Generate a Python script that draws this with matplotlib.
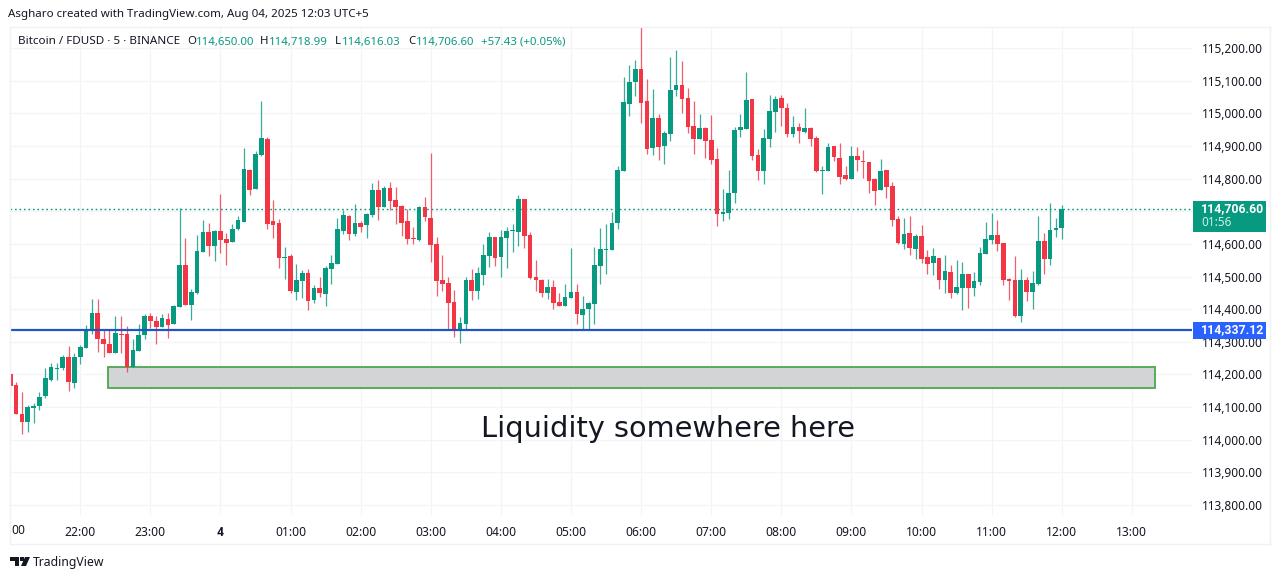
import matplotlib
matplotlib.use("Agg")
import matplotlib.pyplot as plt
from matplotlib.patches import Rectangle, Polygon

plt.rcParams['font.family'] = ['Noto Sans', 'DejaVu Sans']

opens = [114200,114166,114080,114053,114096,114104,114135,114184,114218,114220,
114252,114173,114253,114280,114337,114387,114309,114294,114265,114324,
114325,114222,114273,114320,114380,114364,114345,114370,114353,114406,
114534,114414,114451,114575,114638,114593,114641,114614,114605,114647,
114668,114827,114769,114874,114923,114671,114663,114557,114562,114452,
114485,114510,114427,114464,114445,114522,114538,114639,114685,114630,
114663,114657,114688,114765,114712,114771,114734,114715,114669,114617,
114611,114712,114679,114599,114488,114479,114421,114336,114353,114488,
114455,114504,114562,114620,114559,114617,114640,114636,114737,114626,
114498,114488,114449,114467,114421,114409,114433,114452,114381,114399,
114415,114531,114581,114580,114663,114823,115028,115096,115136,115037,
114893,114985,114899,114936,115071,115087,115047,114961,114921,114955,
114918,114859,114691,114694,114755,114948,114952,115044,114872,114823,
114921,115004,115047,115016,114936,114958,114942,114955,114924,114823,
114823,114899,114864,114812,114800,114870,114855,114852,114800,114766,
114828,114778,114677,114601,114634,114585,114625,114561,114542,114558,
114490,114515,114450,114466,114509,114466,114484,114570,114613,114628,
114604,114493,114490,114380,114490,114453,114478,114610,114555,114643,
114650]
highs = [114205,114177,114147,114107,114111,114147,114220,114235,114235,114261,
114288,114266,114291,114350,114430,114430,114337,114337,114380,114378,
114348,114310,114355,114384,114387,114380,114386,114387,114414,114711,
114619,114463,114626,114672,114663,114644,114752,114634,114661,114685,
114895,114830,114886,115039,114929,114736,114675,114592,114570,114538,
114519,114522,114473,114498,114532,114565,114679,114704,114688,114722,
114670,114696,114786,114795,114777,114789,114774,114719,114706,114651,
114715,114743,114878,114620,114565,114498,114458,114375,114498,114522,
114528,114599,114636,114620,114642,114651,114660,114749,114737,114636,
114550,114491,114491,114488,114449,114476,114587,114476,114439,114421,
114590,114648,114660,114697,114838,115111,115148,115163,115267,115105,
115074,114998,114945,115172,115194,115160,115077,115037,114998,114958,
114994,114893,114767,114826,114958,114998,115126,115044,114890,114952,
115056,115053,115056,115031,114991,114970,115016,114958,114930,114838,
114909,114899,114910,114840,114901,114898,114889,114852,114803,114861,
114828,114791,114686,114680,114686,114631,114659,114582,114588,114558,
114567,114536,114551,114545,114509,114515,114591,114668,114696,114674,
114604,114496,114564,114524,114499,114518,114686,114634,114726,114680,
114718.99]
lows = [114143,114078,114017,114023,114051,114090,114128,114181,114182,114214,
114148,114158,114232,114280,114324,114268,114253,114265,114265,114266,
114208,114222,114271,114308,114341,114293,114345,114311,114353,114406,
114412,114368,114446,114575,114562,114547,114571,114535,114605,114644,
114668,114751,114769,114871,114647,114619,114525,114494,114451,114428,
114434,114396,114420,114436,114410,114476,114538,114630,114611,114624,
114636,114617,114682,114673,114712,114703,114660,114623,114599,114599,
114608,114669,114544,114439,114455,114338,114314,114295,114338,114427,
114430,114473,114528,114531,114498,114525,114574,114593,114587,114491,
114455,114436,114430,114399,114409,114409,114433,114353,114335,114338,
114356,114476,114507,114580,114645,114823,114991,115053,114970,114875,
114872,114856,114844,114915,115053,115001,114939,114875,114921,114863,
114844,114654,114669,114675,114725,114927,114952,114856,114795,114783,
114896,114942,114961,114927,114927,114909,114939,114899,114820,114752,
114823,114853,114785,114797,114800,114824,114803,114757,114720,114766,
114742,114656,114601,114585,114567,114555,114542,114509,114505,114463,
114450,114435,114447,114398,114404,114441,114475,114570,114601,114579,
114475,114429,114377,114361,114426,114401,114475,114509,114536,114622,
114616.03]
closes = [114164,114078,114053,114100,114104,114131,114189,114224,114221,114254,
114176,114254,114284,114337,114387,114308,114293,114265,114328,114322,
114222,114276,114322,114380,114363,114345,114373,114351,114411,114534,
114412,114454,114577,114638,114593,114641,114612,114602,114647,114672,
114831,114766,114877,114926,114662,114659,114557,114560,114455,114488,
114510,114424,114464,114450,114525,114541,114645,114688,114630,114663,
114651,114691,114765,114712,114771,114731,114712,114663,114614,114614,
114712,114682,114596,114485,114476,114418,114338,114357,114488,114455,
114510,114565,114620,114556,114620,114639,114642,114737,114623,114495,
114488,114449,114467,114418,114409,114436,114452,114384,114402,114418,
114534,114583,114583,114663,114826,115034,115096,115136,115031,114890,
114985,114896,114939,115071,115087,115044,114958,114921,114955,114915,
114856,114691,114697,114755,114948,114958,115040,114869,114823,114924,
115007,115044,115016,114936,114958,114945,114955,114921,114823,114828,
114896,114866,114806,114800,114870,114858,114850,114794,114763,114824,
114775,114674,114604,114631,114588,114625,114555,114539,114564,114490,
114518,114450,114469,114509,114466,114487,114573,114616,114628,114601,
114490,114487,114380,114490,114453,114481,114610,114555,114643,114650,
114706.60]

y_ticks = [115200,115100,115000,114900,114800,114700,114600,114500,114400,
           114300,114200,114100,114000,113900,113800]
hidden_y_label = 114700
hour_ticks = [12,24,36,48,60,72,84,96,108,120,132,144,156,168,180,192]
hour_labels = ['22:00','23:00','4','01:00','02:00','03:00','04:00','05:00','06:00',
               '07:00','08:00','09:00','10:00','11:00','12:00','13:00']
support_price = 114337.12
zone_x = [16.83, 195.96]
zone_y = [114158.7, 114221.5]

W, H = 1280, 580
GREEN, RED = '#089981', '#F23645'
PX = 72 / 100
fig = plt.figure(figsize=(W/100, H/100), dpi=100, facecolor='white')
L, R, T, B = 10, 1192, 27, 515
ax = fig.add_axes([L/W, 1-B/H, (R-L)/W, (B-T)/H])
ax.set_xlim(-0.03, 202.3)
ax.set_ylim(113769, 115265)
ax.set_axisbelow(True)
for s in ax.spines.values():
    s.set_visible(False)
ax.grid(True, color='#f3f4f6', lw=1*PX*1.3)

def fx(x): return x / W
def fy(y): return 1 - y / H

# candles
colors = [GREEN if c >= o else RED for o, c in zip(opens, closes)]
xs = list(range(len(opens)))
ax.vlines(xs, lows, highs, colors=colors, lw=1.25*PX, zorder=3, alpha=0.8)
ax.bar(xs, [max(abs(c-o), 3) for o, c in zip(opens, closes)],
       bottom=[min(o, c) for o, c in zip(opens, closes)],
       width=0.8, color=colors, lw=0, zorder=4)

# last price and support lines
ax.axhline(closes[-1], color=GREEN, lw=1.4*PX, ls=(0, (1.2, 2.0)), zorder=2)
ax.axhline(support_price, color='#1f55c4', lw=2.2*PX, zorder=5)

# liquidity zone
ax.add_patch(Rectangle((zone_x[0], zone_y[0]), zone_x[1]-zone_x[0], zone_y[1]-zone_y[0],
                       facecolor='#d3d4d6', edgecolor='#4ca64f', lw=1.8*PX, zorder=2))
ax.text(112.6, 114034, 'Liquidity somewhere here', fontsize=20.7, color='#131722',
        ha='center', va='center', family='DejaVu Sans', zorder=6)

# axes
ax.yaxis.tick_right()
ax.set_yticks(y_ticks)
ax.set_yticklabels(['' if v == hidden_y_label else f'{v:,.2f}' for v in y_ticks],
                   fontsize=8.5, color='#131722')
ax.set_xticks(hour_ticks)
ax.set_xticklabels(hour_labels, fontsize=8.7, color='#131722')
ax.tick_params(axis='both', length=0)
ax.tick_params(axis='y', pad=7)
ax.tick_params(axis='x', pad=8)
for lab in ax.get_xticklabels():
    if lab.get_text() == '4':
        lab.set_family('Roboto')
        lab.set_fontweight('bold')
fig.text(fx(18), fy(531), '00', fontsize=8.7, color='#131722', ha='center', va='center')

# outer frame
for (x0, y0, x1, y1) in [(10, 27, 1270, 27), (1270, 27, 1270, 544), (10, 544, 1270, 544), (10, 27, 10, 544)]:
    fig.add_artist(plt.Line2D([fx(x0), fx(x1)], [fy(y0), fy(y1)], color='#f0f1f4', lw=1.3*PX))

# header
fig.text(fx(8), fy(15), 'Asgharo created with TradingView.com, Aug 04, 2025 12:03 UTC+5',
         fontsize=8.3, color='#131722', va='center')
fig.text(fx(18), fy(42), 'Bitcoin / FDUSD · 5 · BINANCE', fontsize=8.4, color='#131722', va='center')
for x, s, col in [(187, 'O', '#131722'), (195.5, '114,650.00', GREEN),
                  (260, 'H', '#131722'), (268.5, '114,718.99', GREEN),
                  (335, 'L', '#131722'), (342, '114,616.03', GREEN),
                  (408, 'C', '#131722'), (416, '114,706.60', GREEN),
                  (481, '+57.43 (+0.05%)', GREEN)]:
    fig.text(fx(x), fy(42), s, fontsize=8.2, color=col, va='center')

# price labels
fig.add_artist(Rectangle((fx(1193), fy(232)), 73/W, 31/H, transform=fig.transFigure,
                         facecolor=GREEN, edgecolor='none', zorder=5))
fig.add_artist(Rectangle((fx(1193), fy(339)), 73/W, 17/H, transform=fig.transFigure,
                         facecolor='#2962FF', edgecolor='none', zorder=5))
fig.text(fx(1201), fy(209), f'{closes[-1]:,.2f}', fontsize=8.8, color='white', va='center',
         family='Roboto', fontweight='bold', zorder=6)
fig.text(fx(1201), fy(223), '01:56', fontsize=8.5, color='#c9efe6', va='center', zorder=6)
fig.text(fx(1201), fy(330), f'{support_price:,.2f}', fontsize=8.8, color='white', va='center',
         family='Roboto', fontweight='bold', zorder=6)

# TradingView mark
dark = '#131722'
fig.add_artist(Polygon([(fx(10), fy(557)), (fx(19), fy(557)), (fx(19), fy(566)), (fx(15), fy(566)),
                        (fx(15), fy(561)), (fx(10), fy(561))], closed=True, transform=fig.transFigure,
                       facecolor=dark, edgecolor='none'))
fig.add_artist(Polygon([(fx(25), fy(557)), (fx(30), fy(557)), (fx(26), fy(566)), (fx(21), fy(566))],
                       closed=True, transform=fig.transFigure, facecolor=dark, edgecolor='none'))
fig.add_artist(Polygon([(fx(20), fy(557)), (fx(23.5), fy(557)), (fx(23.5), fy(560.5)), (fx(20), fy(560.5))],
                       closed=True, transform=fig.transFigure, facecolor=dark, edgecolor='none'))
fig.text(fx(33), fy(562.5), 'TradingView', fontsize=8.8, color='#131722', va='center')

fig.savefig('out.png', dpi=100, facecolor='white')
